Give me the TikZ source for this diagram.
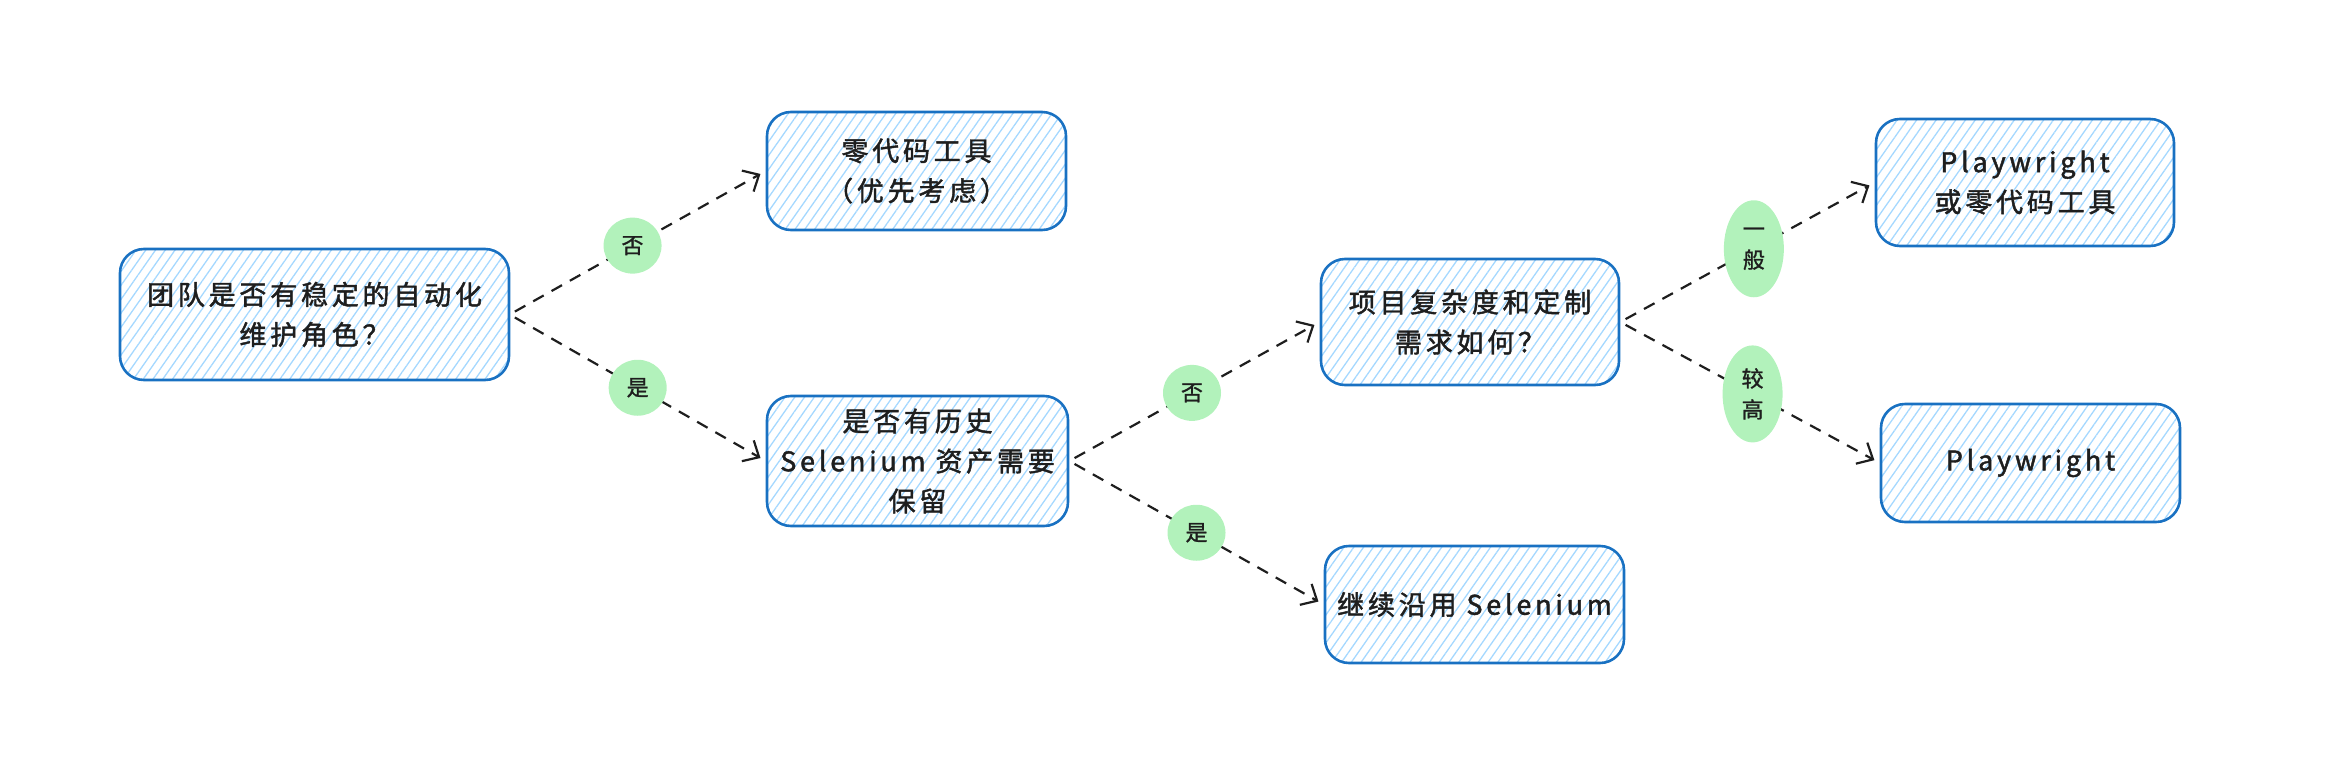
\documentclass[tikz,border=0pt]{standalone}
\usepackage{fontspec}
\setmainfont{Noto Sans CJK SC}[LetterSpace=14,FakeBold=1.6]
\newfontfamily\tagfont{Noto Sans CJK SC}[FakeBold=1.2]
\usetikzlibrary{arrows.meta,shapes.geometric,patterns.meta}
\definecolor{BoxBlue}{HTML}{1971C2}
\definecolor{Hatch}{HTML}{A5D8FF}
\definecolor{TagGreen}{HTML}{B2F2BB}
\definecolor{Ink}{HTML}{1E1E1E}

\begin{document}
\begin{tikzpicture}[x=1pt,y=-1pt,
  box/.style={draw=BoxBlue,line width=2.6pt,rounded corners=24pt,
    pattern={Lines[angle=55,distance=8pt,line width=1.3pt]},pattern color=Hatch,
    align=center,inner sep=0pt,text=Ink,font=\fontsize{27}{40}\selectfont},
  tag/.style={ellipse,fill=TagGreen,inner sep=0pt,minimum width=58pt,minimum height=56pt,
    align=center,text=Ink,font=\tagfont\fontsize{22}{31}\selectfont},
  link/.style={draw=Ink,line width=2.2pt,dash pattern=on 12pt off 9pt,
    -{Straight Barb[length=13pt,width=24pt]},shorten <=6pt,shorten >=6pt}
]
  \path[use as bounding box] (0,0) rectangle (2332,779);

  \node[box,minimum width=389pt,minimum height=131pt] (role) at (314.5,314.5) {团队是否有稳定的自动化\\维护角色？};

  \node[box,minimum width=299pt,minimum height=118pt] (nocode) at (916.5,171) {零代码工具\\（优先考虑）};

  \node[box,minimum width=301pt,minimum height=130pt] (legacy) at (917.5,461) {是否有历史\\Selenium 资产需要\\保留};

  \node[box,minimum width=298pt,minimum height=126pt] (complex) at (1470,322) {项目复杂度和定制\\需求如何？};

  \node[box,minimum width=299pt,minimum height=117pt] (keep) at (1474.5,604.5) {继续沿用 Selenium};

  \node[box,minimum width=298pt,minimum height=127pt] (pwmix) at (2025,182.5) {Playwright\\或零代码工具};

  \node[box,minimum width=299pt,minimum height=118pt] (pw) at (2030.5,463) {Playwright};

  \draw[link] (role.east) -- node[tag,pos=0.48] {否} (nocode.west);
  \draw[link] (role.east) -- node[tag,pos=0.5] {是} (legacy.west);

  \draw[link] (legacy.east) -- node[tag,pos=0.49] {否} (complex.west);
  \draw[link] (legacy.east) -- node[tag,pos=0.5] {是} (keep.west);

  \draw[link] (complex.east) -- node[tag,pos=0.525,minimum width=60pt,minimum height=97pt] {一\\般} (pwmix.west);
  \draw[link] (complex.east) -- node[tag,pos=0.51,minimum width=60pt,minimum height=97pt] {较\\高} (pw.west);
\end{tikzpicture}
\end{document}
